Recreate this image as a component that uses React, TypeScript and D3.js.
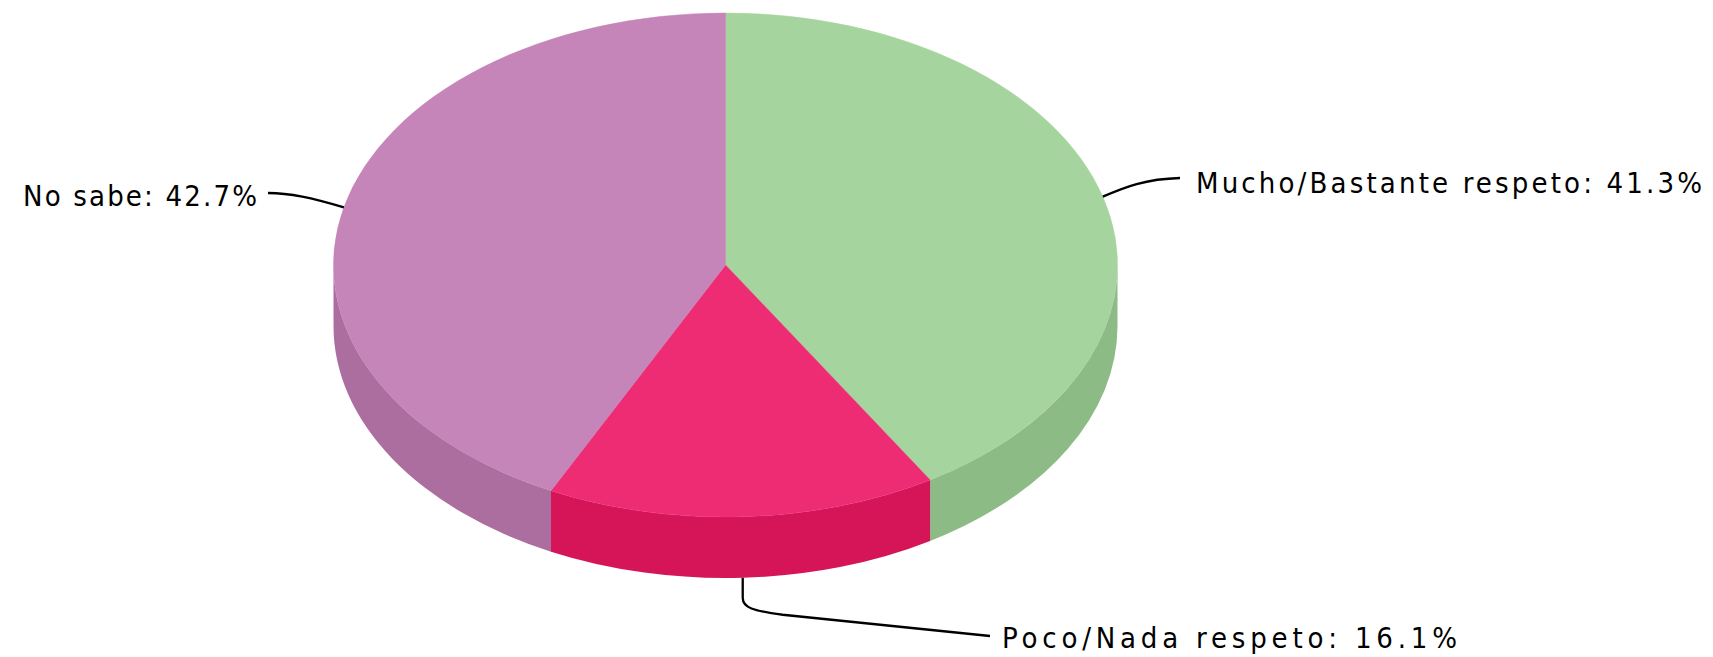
import React from "react";
import * as d3 from "d3";

const categories = ["Mucho/Bastante respeto", "Poco/Nada respeto", "No sabe"];
const values = [41.3, 16.1, 42.7];
const topColors = ["#a6d49e", "#ee2c74", "#c585b8"];
const sideColors = ["#8dbb85", "#d51558", "#ac6d9f"];

const W = 1713;
const H = 657;
const cx = 725.5;
const cy = 265;
const rx = 392;
const ry = 252;
const depth = 61;

function pt(a: number, dy = 0): [number, number] {
  return [cx + rx * Math.sin(a), cy - ry * Math.cos(a) + dy];
}

function topPath(a0: number, a1: number) {
  const p0 = pt(a0);
  const p1 = pt(a1);
  const large = a1 - a0 > Math.PI ? 1 : 0;
  return `M${cx},${cy}L${p0[0]},${p0[1]}A${rx},${ry} 0 ${large} 1 ${p1[0]},${p1[1]}Z`;
}

function sidePath(a0: number, a1: number) {
  const lo = Math.max(a0, Math.PI / 2);
  const hi = Math.min(a1, (3 * Math.PI) / 2);
  if (hi <= lo) return null;
  const p0 = pt(lo);
  const p1 = pt(hi);
  const q1 = pt(hi, depth);
  const q0 = pt(lo, depth);
  const large = hi - lo > Math.PI ? 1 : 0;
  return `M${p0[0]},${p0[1]}A${rx},${ry} 0 ${large} 1 ${p1[0]},${p1[1]}L${q1[0]},${q1[1]}A${rx},${ry} 0 ${large} 0 ${q0[0]},${q0[1]}Z`;
}

export default function App() {
  const pie = d3.pie<number>().sort(null).value((d) => d);
  const arcs = pie(values);
  const font = "'DejaVu Sans Condensed', 'DejaVu Sans', sans-serif";

  const mids = arcs.map((a) => (a.startAngle + a.endAngle) / 2);
  const mMucho = pt(mids[0]);
  const mPoco = pt(mids[1], depth);
  const mNo = pt(mids[2]);

  const labels = [
    { text: `${categories[0]}: ${values[0]}%`, x: 1196, y: 193, len: 506 },
    { text: `${categories[1]}: ${values[1]}%`, x: 1002, y: 648, len: 455 },
    { text: `${categories[2]}: ${values[2]}%`, x: 23, y: 206, len: 234 },
  ];

  return (
    <svg
      width={W}
      height={H}
      style={{ position: "absolute", left: 0, top: 0, display: "block", background: "#fff" }}
    >
      {arcs.map((a, i) => {
        const d = sidePath(a.startAngle, a.endAngle);
        return d ? <path key={"s" + i} d={d} fill={sideColors[i]} /> : null;
      })}
      {arcs.map((a, i) => (
        <path
          key={"t" + i}
          d={topPath(a.startAngle, a.endAngle)}
          fill={topColors[i]}
          stroke={topColors[i]}
          strokeWidth={0.5}
        />
      ))}
      <g fill="none" stroke="#000" strokeWidth={2.3}>
        <path d={`M${mMucho[0]},${mMucho[1]}C1125,187 1145,179 1180,178`} />
        <path
          d={`M${mPoco[0]},${mPoco[1]}L${mPoco[0]},${mPoco[1] + 20}C${mPoco[0]},${mPoco[1] + 30} ${mPoco[0] + 10},${mPoco[1] + 33} ${mPoco[0] + 40},${mPoco[1] + 37}L990,636`}
        />
        <path d={`M268,193C290,193 312,198 ${mNo[0]},${mNo[1]}`} />
      </g>
      {labels.map((l, i) => (
        <text
          key={"l" + i}
          x={l.x}
          y={l.y}
          textLength={l.len}
          lengthAdjust="spacing"
          fontFamily={font}
          fontSize={29}
          fill="#000"
        >
          {l.text}
        </text>
      ))}
    </svg>
  );
}
